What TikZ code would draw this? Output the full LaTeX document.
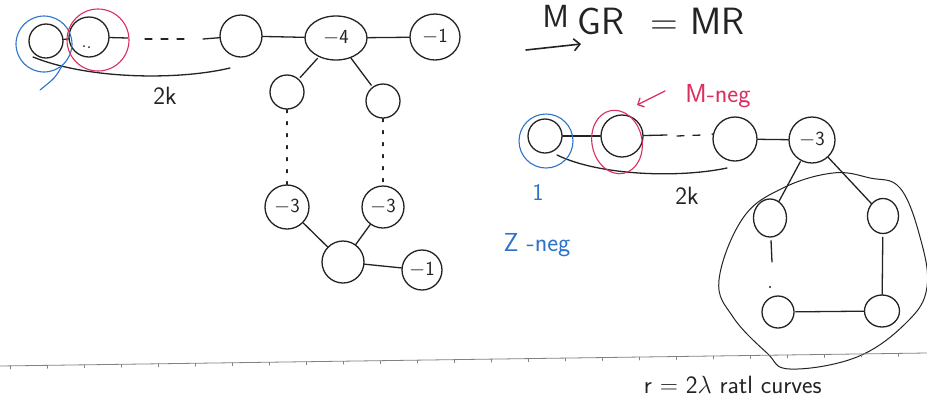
\documentclass[tikz,border=0pt]{standalone}
\usetikzlibrary{arrows.meta,shapes.geometric}
\definecolor{ink}{RGB}{35,35,35}
\definecolor{blueink}{RGB}{45,115,200}
\definecolor{redink}{RGB}{220,45,95}
\definecolor{rule}{RGB}{130,130,130}
\begin{document}
\begin{tikzpicture}[x=1pt,y=-1pt,
  color=ink, line width=1.3pt,
  line cap=round, line join=round,
  vert/.style={draw=ink, circle, line width=1.3pt, inner sep=0pt, minimum size=#1, font=\fontsize{20}{20}\sffamily, text=ink},
  vert/.default=34pt,
  oval/.style 2 args={draw=ink, ellipse, line width=1.3pt, inner sep=0pt, minimum width=#1, minimum height=#2, font=\fontsize{20}{20}\sffamily, text=ink},
  dotline/.style={dash pattern=on 3pt off 9pt},
  chaindash/.style={dash pattern=on 7pt off 9pt},
  lbl/.style={font=\fontsize{25}{25}\sffamily, text=ink},
  bigtxt/.style={font=\fontsize{38}{38}\sffamily, text=ink, inner sep=0pt, anchor=base west},
]
\useasboundingbox (0,0) rectangle (927,400);
\fill[white] (0,0) rectangle (927,400);

% ---------- left graph ----------
\node[vert=34pt] (A) at (46,41) {};
\node[vert=40pt] (B) at (89,37) {};
\node[vert=42pt] (C) at (241,36) {};
\node[oval={62pt}{44pt}] (D) at (336,38) {$-$4};
\node[oval={50pt}{46pt}] (E) at (435,37) {$-$1};
\node[vert=34pt] (F) at (287,92) {};
\node[vert=34pt] (G) at (383,101) {};
\node[vert=44pt] (H) at (287,207) {$-$3};
\node[vert=42pt] (I) at (383,207) {$-$3};
\node[vert=42pt] (J) at (343,262) {};
\node[vert=40pt] (K) at (422,270) {$-$1};

\fill[ink] (84,46) circle (1pt) (89,47) circle (1pt);

\coordinate (bL) at (128,38);
\coordinate (dS) at (145,39);
\coordinate (dE) at (192,39);
\coordinate (cL) at (203,39);
\draw (A) -- (B);
\draw (B) -- (bL);
\draw[chaindash] (dS) -- (dE);
\draw (cL) -- (C);
\draw (C) -- (D);
\draw (D) -- (E);
\draw[shorten <=2pt, shorten >=2pt] (D) -- (F);
\draw[shorten >=2pt] (D) -- (G);
\draw[dotline] (F) -- (H);
\draw[dotline] (G) -- (I);
\draw (H) -- (J);
\draw (I) -- (J);
\draw (J) -- (K);

% chain of length 2k
\coordinate (lk0) at (33,57);
\coordinate (lk1) at (230,68);
\draw (lk0) .. controls (90,80) and (180,80) .. (lk1);
\node[lbl] (lk) at (165,96) {2k};

% marked ends
\draw[blueink, line width=1.1pt] (44,44) circle [radius=28pt];
\coordinate (bt0) at (62,66);
\coordinate (bt1) at (40,90);
\draw[blueink, line width=1.1pt] (bt0) .. controls (55,78) .. (bt1);
\draw[redink, line width=1.1pt] (98,40) circle [radius=31pt];

% ---------- arrow and heading ----------
\coordinate (ar0) at (526,50);
\coordinate (ar1) at (581,44);
\draw[line width=1.6pt, -{Straight Barb[length=6pt,width=12pt]}] (ar0) -- (ar1);
\node[bigtxt, font=\fontsize{32}{32}\sffamily] (m1) at (542,27) {M};
\node[bigtxt] (m2) at (577,34) {GR};
\node[bigtxt] (m3) at (650,34) {=};
\node[bigtxt] (m4) at (690,34) {MR};

% ---------- right graph ----------
\node[vert=34pt] (P) at (545,136) {};
\node[vert=42pt] (Q) at (622,136) {};
\node[vert=44pt] (R) at (735,139) {};
\node[vert=46pt] (S) at (812,140) {$-$3};
\node[oval={33pt}{38pt}] (T) at (770,218) {};
\node[oval={31pt}{35pt}] (U) at (883,216) {};
\node[vert=32pt] (V) at (778,312) {};
\node[oval={35pt}{32pt}] (W) at (882,311) {};

\coordinate (qL) at (667,135);
\coordinate (rS) at (677,136);
\coordinate (rE) at (702,135);
\coordinate (rL) at (712,134);
\draw (P) -- (Q);
\draw (Q) -- (qL);
\draw[chaindash] (rS) -- (rE);
\draw (rL) -- (R);
\draw (R) -- (S);
\draw[shorten <=1pt] (S) -- (T);
\draw (S) -- (U);
\coordinate (tE) at (772,262);
\draw[shorten <=3pt] (T) -- (tE);
\fill[ink] (770,287) circle (1.1pt);
\draw[shorten <=3pt] (U) -- (W);
\draw[shorten <=1pt] (V) -- (W);

\coordinate (rk0) at (557,155);
\coordinate (rk1) at (727,168);
\draw (rk0) .. controls (600,176) and (680,178) .. (rk1);
\node[lbl] (rk) at (687,196) {2k};

% marked ends
\draw[blueink, line width=1.1pt] (546,141) circle [radius=27pt];
\node[font=\fontsize{24}{24}\sffamily, text=blueink] (one) at (538,192) {1};
\node[font=\fontsize{26}{26}\sffamily, text=blueink] (zn) at (537,245) {Z -neg};
\draw[redink, line width=1.1pt, rotate around={12:(617,142)}] (617,142) ellipse [x radius=25pt, y radius=32pt];
\coordinate (ra0) at (665,91);
\coordinate (ra1) at (637,105);
\draw[redink, line width=1.3pt, -{Straight Barb[length=5pt,width=10pt]}] (ra0) -- (ra1);
\node[font=\fontsize{26}{26}\sffamily, text=redink] (mn) at (718,96) {M-neg};

% cycle of rational curves
\draw[line width=1pt] plot[smooth cycle, tension=0.65] coordinates {
  (833,173) (870,178) (900,188) (920,237) (927,287) (907,322)
  (857,357) (790,369) (767,353) (733,317) (719,280) (743,218) (783,188)};

% ruled line
\draw[rule, line width=0.8pt] (0,366) -- (927,353);
\foreach \t in {0,...,24} {
  \draw[rule, line width=0.6pt] ({10+37*\t},{366-0.014*(10+37*\t)}) -- ++(0,3);
}
\node[font=\fontsize{25}{25}\sffamily, text=ink, anchor=base west] (rr) at (640,393) {r = 2$\lambda$ ratl curves};
\end{tikzpicture}
\end{document}
